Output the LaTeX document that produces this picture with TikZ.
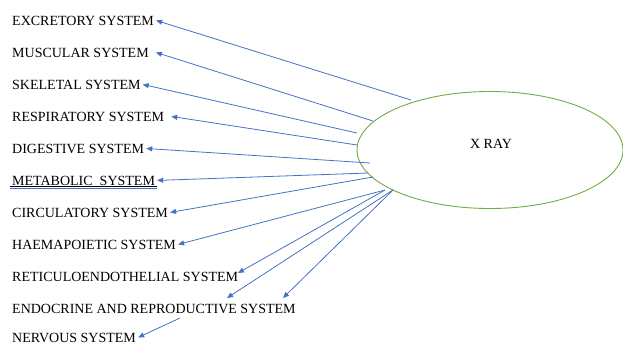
\documentclass[tikz,border=0pt]{standalone}
\usepackage{fontspec}
\setmainfont{Liberation Serif}
\usetikzlibrary{arrows.meta,shapes.geometric}
\definecolor{lineblue}{RGB}{68,114,196}
\definecolor{ovalgreen}{RGB}{112,173,71}

\begin{document}
\begin{tikzpicture}[x=1pt, y=-1pt, font=\fontsize{14}{16}\selectfont,
  sys/.style={anchor=base west, inner sep=2pt},
  link/.style={-{Triangle[length=6pt,width=5pt]}, draw=lineblue, line width=0.8pt}]
\useasboundingbox (0,0) rectangle (623,346);
\node[shape=ellipse, draw=ovalgreen, line width=0.9pt, minimum width=266pt, minimum height=117pt] (xray) at (490,150) {};
\node (xraytext) at (491,144) {X RAY};
\node[sys] (excr) at (10,25) {EXCRETORY SYSTEM};
\node[sys] (musc) at (10,57) {MUSCULAR SYSTEM};
\node[sys] (skel) at (10,89) {SKELETAL SYSTEM};
\node[sys] (resp) at (10,121) {RESPIRATORY SYSTEM};
\node[sys] (dige) at (10,153) {DIGESTIVE SYSTEM};
\node[sys] (meta) at (10,185) {METABOLIC~ SYSTEM};
\node[sys] (circ) at (10,217) {CIRCULATORY SYSTEM};
\node[sys] (haem) at (10,249) {HAEMAPOIETIC SYSTEM};
\node[sys] (reti) at (10,281) {RETICULOENDOTHELIAL SYSTEM};
\node[sys] (endo) at (10,313) {ENDOCRINE AND REPRODUCTIVE SYSTEM};
\node[sys] (nerv) at (10,342) {NERVOUS SYSTEM};
% underline of the metabolic label
\draw[line width=0.6pt] ([yshift=-1.5pt]meta.base west) -- ([yshift=-1.5pt]meta.base east);
\draw[draw=lineblue, line width=0.8pt] ([yshift=-3.5pt]meta.base west) -- ([yshift=-3.5pt]meta.base east);
% start points on the oval
\coordinate (s1) at (411,100);
\coordinate (s2) at (373,121);
\coordinate (s3) at (357,133);
\coordinate (s4) at (357,145);
\coordinate (s5) at (370,163);
\coordinate (s6) at (368,173);
\coordinate (s7) at (373,177);
\coordinate (s8) at (385,190);
\coordinate (s9) at (393,190);
\coordinate (s10) at (180,318);
% free arrow tips
\coordinate (retitip) at (238,273);
\coordinate (endotip1) at (227,298);
\coordinate (endotip2) at (283,298);
\path (s1) edge[link] (excr.east);
\path (s2) edge[link] ([xshift=5pt]musc.east);
\path (s3) edge[link] (skel.east);
\path (s4) edge[link] ([xshift=5pt]resp.east);
\path (s5) edge[link] (dige.east);
\path (s6) edge[link] (meta.east);
\path (s7) edge[link] (circ.east);
\path (s8) edge[link] (haem.east);
\path (s8) edge[link] (retitip);
\path (s9) edge[link] (endotip1);
\path (s9) edge[link] (endotip2);
\path (s10) edge[link] (nerv.east);
\end{tikzpicture}
\end{document}
